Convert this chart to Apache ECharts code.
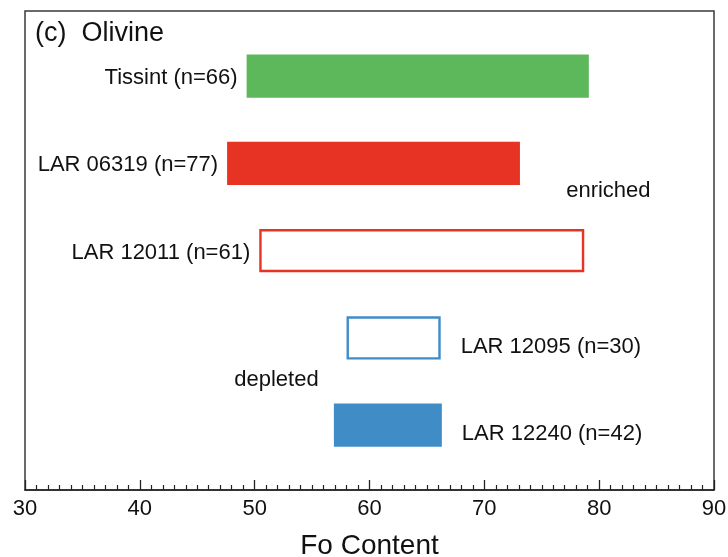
<!DOCTYPE html>
<html>
<head>
<meta charset="utf-8">
<script src="https://cdn.jsdelivr.net/npm/echarts@6/dist/echarts.min.js"></script>
<style>
  html, body { margin: 0; padding: 0; background: #fff; }
  #chart { width: 728px; height: 557px; }
</style>
</head>
<body>
<div id="chart"></div>
<script>
// Olivine Fo ranges for each meteorite
const samples  = ['Tissint (n=66)', 'LAR 06319 (n=77)', 'LAR 12011 (n=61)', 'LAR 12095 (n=30)', 'LAR 12240 (n=42)'];
const foMin    = [49.3, 47.6, 50.4, 58.0, 56.9];
const foMax    = [79.1, 73.1, 78.7, 66.2, 66.3];
const colors   = ['#5cb85b', '#e63323', '#e63323', '#3f8cc6', '#3f8cc6'];
const filled   = [true, true, false, false, true];
const labelSide = ['left', 'left', 'left', 'right', 'right'];

// Group annotations: [text, Fo, row]
const notes = [['enriched', 80.8, 1.32], ['depleted', 51.9, 3.48]];

const xTicks = [30, 40, 50, 60, 70, 80, 90];

const FONT = 'Liberation Sans, Arial, Helvetica, sans-serif';

const chart = echarts.init(document.getElementById('chart'), null, { renderer: 'canvas' });

const barData = samples.map((s, i) => [foMin[i], foMax[i], i]);

chart.setOption({
  animation: false,
  backgroundColor: '#fff',
  grid: {
    left: 25, right: 14, top: 11, bottom: 67,
    containLabel: false, outerBoundsMode: 'none',
    show: true, borderColor: '#3a3a3a', borderWidth: 1.5, backgroundColor: 'transparent'
  },
  xAxis: {
    type: 'value',
    min: xTicks[0], max: xTicks[xTicks.length - 1], interval: 10,
    name: 'Fo Content', nameLocation: 'middle', nameGap: 42,
    nameTextStyle: { fontFamily: FONT, fontSize: 28, color: '#111' },
    axisLine: { show: true, onZero: false, lineStyle: { color: '#222', width: 1.5 } },
    axisTick: { show: true, inside: true, length: 10, lineStyle: { color: '#222', width: 1.3 } },
    minorTick: { show: true, splitNumber: 10, length: 5, lineStyle: { color: '#222', width: 1.2 } },
    axisLabel: { fontFamily: FONT, fontSize: 22, color: '#111', margin: 8 },
    splitLine: { show: false }
  },
  yAxis: {
    type: 'value', inverse: true, min: -0.745, max: 4.742,
    show: false, splitLine: { show: false }
  },
  graphic: [{
    type: 'text', left: 35, top: 20,
    style: { text: '(c)  Olivine', font: '27px ' + FONT, fill: '#111' }
  }],
  series: [{
    type: 'custom',
    encode: { x: [0, 1], y: 2 },
    data: barData,
    clip: false,
    renderItem: function (params, api) {
      const i = api.value(2);
      const p0 = api.coord([api.value(0), i]);
      const p1 = api.coord([api.value(1), i]);
      const h = api.size([0, 0.495])[1];
      const isFilled = filled[i];
      const sw = isFilled ? 0 : 2.4;
      const rect = {
        type: 'rect',
        shape: {
          x: p0[0] + sw / 2, y: p0[1] - h / 2 + sw / 2,
          width: p1[0] - p0[0] - sw, height: h - sw
        },
        style: isFilled
          ? { fill: colors[i] }
          : { fill: '#fff', stroke: colors[i], lineWidth: sw }
      };
      const left = labelSide[i] === 'left';
      const label = {
        type: 'text',
        style: {
          text: samples[i],
          x: left ? p0[0] - 9 : p1[0] + 20,
          y: left ? p0[1] + 2 : p1[1] + 9,
          align: left ? 'right' : 'left',
          verticalAlign: 'middle',
          font: '22px ' + FONT,
          fill: '#111'
        }
      };
      return { type: 'group', children: [rect, label] };
    }
  }, {
    type: 'custom',
    encode: { x: 0, y: 1 },
    data: notes.map(n => [n[1], n[2]]),
    silent: true,
    renderItem: function (params, api) {
      const p = api.coord([api.value(0), api.value(1)]);
      return {
        type: 'text',
        style: {
          text: notes[params.dataIndex][0],
          x: p[0], y: p[1],
          align: 'center', verticalAlign: 'middle',
          font: '22px ' + FONT, fill: '#111'
        }
      };
    }
  }]
});
</script>
</body>
</html>
